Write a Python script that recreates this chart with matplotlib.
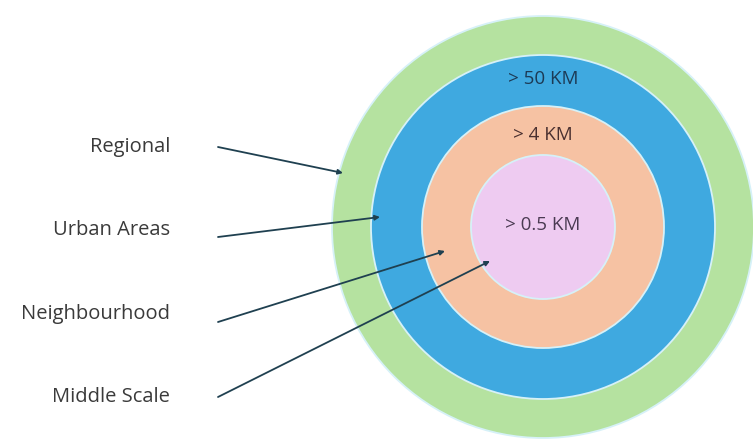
import matplotlib
matplotlib.use("Agg")
import matplotlib.pyplot as plt
from matplotlib.patches import Circle

# Data
ring_names = ["Regional", "Urban Areas", "Neighbourhood", "Middle Scale"]
ring_distances = ["", "> 50 KM", "> 4 KM", "> 0.5 KM"]
ring_radii = [211, 172, 121, 72]
ring_colors = ["#b5e2a0", "#3fa9e0", "#f6c2a3", "#eecbf1"]
text_colors = ["#333333", "#1c3a55", "#4a3030", "#4a3a52"]

plt.rcParams['font.family'] = ['Open Sans', 'DejaVu Sans']

fig = plt.figure(figsize=(7.53, 4.41), dpi=100)
ax = fig.add_axes([0, 0, 1, 1])
ax.set_xlim(0, 753)
ax.set_ylim(441, 0)
ax.set_aspect('equal')
ax.axis('off')

cx, cy = 543, 227
for r, c in zip(ring_radii, ring_colors):
    ax.add_patch(Circle((cx, cy), r, facecolor=c, edgecolor="#d6f1f8", lw=1.3))

# distance labels inside rings
label_y = [None, 79, 135, 225]
for d, y, tc in zip(ring_distances, label_y, text_colors):
    if d:
        ax.text(cx, y, d, ha='center', va='center', fontsize=13.5, color=tc)

# left labels and arrows
name_y = [147, 230, 314, 397]
arrow_start = [(218, 147), (218, 237), (218, 322), (218, 397)]
arrow_end = [(343, 173), (380, 217), (445, 251), (490, 261)]
for n, y, s, e in zip(ring_names, name_y, arrow_start, arrow_end):
    ax.text(170, y, n, ha='right', va='center', fontsize=14.5, color="#3a3a3a")
    ax.annotate("", xy=e, xytext=s,
                arrowprops=dict(arrowstyle="-|>", color="#1f4050", lw=1.3,
                                mutation_scale=7, shrinkA=0, shrinkB=0))

fig.savefig("out.png", dpi=100)
